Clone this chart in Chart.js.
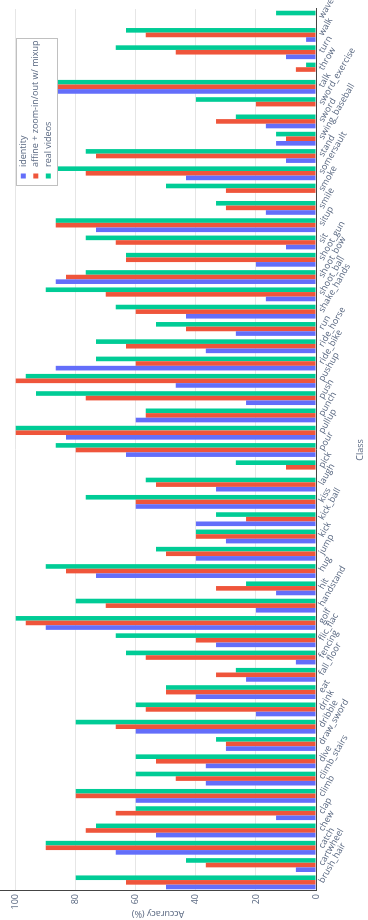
<!DOCTYPE html>
<html>
<head>
<meta charset="utf-8">
<script src="https://cdn.jsdelivr.net/npm/chart.js@4.4.1/dist/chart.umd.min.js"></script>
<style>
html, body { margin: 0; padding: 0; background: #fff; overflow: hidden; width: 368px; height: 920px; }
#wrap { position: absolute; left: 0; top: 0; width: 920px; height: 368px;
        transform-origin: 0 0; transform: translate(0, 920px) rotate(-90deg); }
</style>
</head>
<body>
<div id="wrap"><canvas id="c" width="920" height="368"></canvas></div>
<script>
const categories = ['brush_hair','cartwheel','catch','chew','clap','climb','climb_stairs','dive','draw_sword','dribble',
  'drink','eat','fall_floor','fencing','flic_flac','golf','handstand','hit','hug','jump',
  'kick','kick_ball','kiss','laugh','pick','pour','pullup','punch','push','pushup',
  'ride_bike','ride_horse','run','shake_hands','shoot_ball','shoot_bow','shoot_gun','sit','situp','smile',
  'smoke','somersault','stand','swing_baseball','sword','sword_exercise','talk','throw','turn','walk','wave'];

const identity = [50, 6.7, 66.7, 53.3, 13.3, 60, 36.7, 36.7, 30, 60,
  20, 40, 23.3, 6.7, 33.3, 90, 20, 13.3, 73.3, 40,
  30, 40, 60, 33.3, 0, 63.3, 83.3, 60, 23.3, 46.7,
  86.7, 36.7, 26.7, 43.3, 16.7, 86.7, 20, 10, 73.3, 16.7,
  0, 43.3, 10, 13.3, 16.7, 0, 86.7, 0, 10, 3.3, 0];

const affineMixup = [63.3, 36.7, 90, 76.7, 66.7, 80, 46.7, 53.3, 30, 66.7,
  56.7, 50, 33.3, 56.7, 40, 96.7, 70, 33.3, 83.3, 50,
  40, 23.3, 60, 53.3, 10, 80, 100, 56.7, 76.7, 100,
  60, 63.3, 43.3, 60, 70, 83.3, 63.3, 66.7, 86.7, 30,
  30, 76.7, 73.3, 10, 33.3, 20, 86.7, 6.7, 46.7, 56.7, 0];

const realVideos = [80, 43.3, 90, 73.3, 60, 80, 60, 60, 33.3, 80,
  60, 50, 26.7, 63.3, 66.7, 100, 80, 23.3, 90, 53.3,
  40, 33.3, 76.7, 56.7, 26.7, 86.7, 100, 56.7, 93.3, 96.7,
  73.3, 73.3, 53.3, 66.7, 90, 76.7, 63.3, 76.7, 86.7, 33.3,
  50, 86.7, 76.7, 13.3, 26.7, 40, 86.7, 3.3, 66.7, 63.3, 13.3];

const seriesNames = ['identity', 'affine + zoom-in/out w/ mixup', 'real videos'];
const seriesColors = ['#636efa', '#ef553b', '#00cc96'];
const yTickValues = [0, 20, 40, 60, 80, 100];

const FONT = '"Open Sans", "DejaVu Sans", sans-serif';
const TEXT = '#56657f';

const categoryLabels = {
  id: 'categoryLabels',
  afterDraw(chart) {
    const xs = chart.scales.x;
    const ctx = chart.ctx;
    ctx.save();
    ctx.font = '9px ' + FONT;
    ctx.fillStyle = TEXT;
    ctx.textAlign = 'left';
    ctx.textBaseline = 'middle';
    chart.data.labels.forEach((lab, i) => {
      const x = xs.getPixelForTick(i);
      ctx.save();
      ctx.translate(x, xs.top + 5);
      ctx.rotate(Math.PI / 6);
      ctx.fillText(lab, 0, 0);
      ctx.restore();
    });
    ctx.restore();
  }
};

const boxLegend = {
  id: 'boxLegend',
  afterDraw(chart) {
    const ctx = chart.ctx;
    const bx = 734, by = 16, bw = 148, bh = 42;
    ctx.save();
    ctx.fillStyle = '#ffffff';
    ctx.fillRect(bx, by, bw, bh);
    ctx.strokeStyle = '#c0c0c0';
    ctx.lineWidth = 1;
    ctx.strokeRect(bx + 0.5, by + 0.5, bw - 1, bh - 1);
    ctx.font = '9px ' + FONT;
    ctx.textAlign = 'left';
    ctx.textBaseline = 'middle';
    chart.data.datasets.forEach((ds, i) => {
      const cy = by + 7.3 + i * 12.5;
      ctx.fillStyle = ds.backgroundColor;
      ctx.fillRect(bx + 7.5, cy - 2.5, 5, 5);
      ctx.fillStyle = TEXT;
      ctx.fillText(ds.label, bx + 19, cy);
    });
    ctx.restore();
  }
};

new Chart(document.getElementById('c'), {
  type: 'bar',
  data: {
    labels: categories,
    datasets: [
      { label: seriesNames[0], data: identity, backgroundColor: seriesColors[0] },
      { label: seriesNames[1], data: affineMixup, backgroundColor: seriesColors[1] },
      { label: seriesNames[2], data: realVideos, backgroundColor: seriesColors[2] }
    ]
  },
  options: {
    responsive: false,
    animation: false,
    devicePixelRatio: 1,
    layout: { padding: { left: 0, right: 9, top: 0, bottom: 0 } },
    datasets: { bar: { categoryPercentage: 0.8, barPercentage: 1.0, borderWidth: 0 } },
    plugins: { legend: { display: false }, tooltip: { enabled: false } },
    scales: {
      x: {
        type: 'category',
        offset: true,
        grid: { display: false },
        border: { display: true, color: '#444', width: 1 },
        ticks: { display: false },
        title: { display: true, text: 'Class', color: TEXT, font: { family: FONT, size: 9 }, padding: { top: 0, bottom: 2 } },
        afterFit(s) { s.height = 52; s.paddingLeft = 0; s.paddingRight = 0; }
      },
      y: {
        min: 0,
        max: 105.26,
        grid: { color: '#e6e6e6', drawTicks: false },
        border: { display: true, color: '#444', width: 1 },
        ticks: {
          stepSize: 20,
          includeBounds: false,
          padding: 3,
          color: TEXT,
          font: { family: FONT, size: 9 },
          callback: v => yTickValues.includes(v) ? String(v) : ''
        },
        title: { display: true, text: 'Accuracy (%)', color: TEXT, font: { family: FONT, size: 9 }, padding: { top: 1, bottom: 0 } },
        afterFit(s) { s.width = 29; s.paddingTop = 0; s.paddingBottom = 0; }
      }
    }
  },
  plugins: [categoryLabels, boxLegend]
});
</script>
</body>
</html>
